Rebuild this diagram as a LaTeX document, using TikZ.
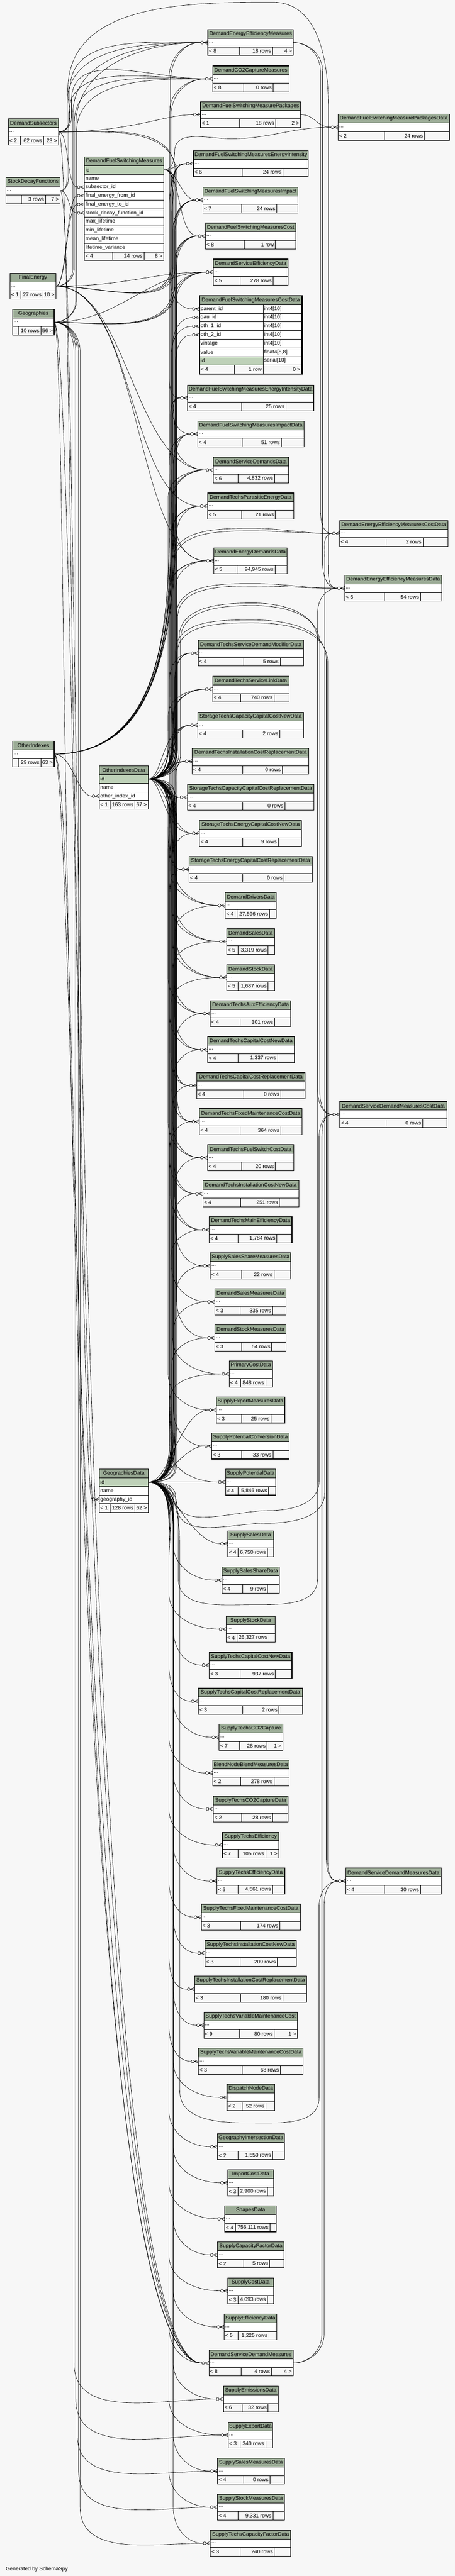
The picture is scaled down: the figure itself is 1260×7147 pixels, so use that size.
\documentclass[tikz,border=0pt]{standalone}
\usepackage{fontspec}
\setmainfont{Liberation Sans}
\usetikzlibrary{calc}
\definecolor{bgc}{RGB}{247,247,247}
\definecolor{hdr}{RGB}{155,171,150}
\definecolor{pkc}{RGB}{190,209,184}
\pgfdeclarelayer{bgl}
\pgfdeclarelayer{edges}
\pgfsetlayers{bgl,edges,main}
\tikzset{
  rel/.style={line width=0.7pt,draw=black},
  cell/.style={line width=0.8pt,draw=black},
  frame/.style={line width=1.2pt,draw=black},
  txt/.style={inner sep=0pt,outer sep=0pt,font=\fontsize{11pt}{13pt}\selectfont,text=black},
  tframe/.style={draw=none,inner sep=0pt,outer sep=0pt,rectangle},
}
\newcommand\Tbl[7]{%
  \gdef\tx{#2}\gdef\ty{#3}\gdef\txr{#4}\gdef\tdb{#6}%
  \node[tframe,minimum width={(#4-#2)*0.75pt},minimum height=54pt,anchor=north west] (#1) at (#2,#3) {};
  \fill[hdr] (#2,#3) rectangle (#4,#3+24);
  \fill[white] (#2,#3+24) rectangle (#4,#3+48);
  \draw[cell] (#2,#3+24) -- (#4,#3+24) (#2,#3+48) -- (#4,#3+48) (#5,#3+48) -- (#5,#3+72) (#6,#3+48) -- (#6,#3+72);
  \draw[frame] (#2,#3) rectangle (#4,#3+72);
  \node[txt] at ({(#2+#4)/2},#3+12) {#7};
  \node[txt,anchor=west] at (#2+3,#3+36) {...};
  \coordinate (#1-in) at (#2-20,#3+36);
  \coordinate (#1-out) at (#4,#3+36);
}
\newcommand\Ft[3]{%
  \node[txt,anchor=west] at (\tx+3,\ty+60) {#1};
  \node[txt,anchor=east] at (\tdb-4,\ty+60) {#2};
  \node[txt,anchor=east] at (\txr-4,\ty+60) {#3};
}
\newcommand\Ec[4]{\draw[rel] (#1) .. controls ($(#1)+(#3,0)$) and ($(#2)+(-#4,0)$) .. (#2);}
\newcommand\Ed[5]{\draw[rel] let \p1=(#1),\p2=(#2),\n1={max(10pt,min((#4)*0.75pt,(\y1)-(\y2)-(#5)*0.75pt-6pt))},\n2={(#3)*0.75pt},\n3={\y1-\n1},\n4={\y2+(#5)*0.75pt} in (\p1) to[out=0,in=90] (\n2,\n3) -- (\n2,\n4) to[out=-90,in=180] (\p2);}
\newcommand\Eu[5]{\draw[rel] let \p1=(#1),\p2=(#2),\n1={max(10pt,min((#4)*0.75pt,(\y2)-(\y1)-(#5)*0.75pt-6pt))},\n2={(#3)*0.75pt},\n3={\y1+\n1},\n4={\y2-(#5)*0.75pt} in (\p1) to[out=0,in=-90] (\n2,\n3) -- (\n2,\n4) to[out=90,in=180] (\p2);}
\newcommand\mk[1]{\draw[rel,fill=white] ($(#1)+(4,0)$) circle[radius=3pt]; \draw[rel] ($(#1)+(8,0)$) -- ($(#1)+(20,-5)$) ($(#1)+(8,0)$) -- ($(#1)+(20,0)$) ($(#1)+(8,0)$) -- ($(#1)+(20,5)$);}

\begin{document}
\begin{tikzpicture}[x=0.75pt,y=-0.75pt]
\begin{pgfonlayer}{bgl}
\fill[bgc] (0,0) rectangle (1260,7147);
\end{pgfonlayer}
\useasboundingbox (0,0) rectangle (1260,7147);

% ---------------- left parent tables
\Tbl{DSUB}{23}{330}{162}{56}{121}{DemandSubsectors}\Ft{< 2}{62 rows}{23 >}
\Tbl{SDF}{16}{493}{167}{59}{126}{StockDecayFunctions}\Ft{}{3 rows}{7 >}
\Tbl{FE}{28}{758}{155}{57}{119}{FinalEnergy}\Ft{< 1}{27 rows}{10 >}
\Tbl{GEO}{35}{858}{150}{51}{113}{Geographies}\Ft{}{10 rows}{56 >}
\Tbl{OI}{35}{2056}{150}{51}{113}{OtherIndexes}\Ft{}{29 rows}{63 >}

% ---------------- DemandFuelSwitchingMeasures
\node[tframe,minimum width=165pt,minimum height=216pt,anchor=north west] (DFSM) at (234,435) {};
\fill[hdr] (234,435) rectangle (454,459);
\fill[pkc] (234,459) rectangle (454,483);
\fill[white] (234,483) rectangle (454,699);
\foreach \yy in {459,483,...,699} {\draw[cell] (234,\yy) -- (454,\yy);}
\draw[cell] (312,699) -- (312,723) (399,699) -- (399,723);
\draw[frame] (234,435) rectangle (454,723);
\node[txt] at (344,447) {DemandFuelSwitchingMeasures};
\foreach \rowtxt [count=\ix] in {id,name,subsector\_id,final\_energy\_from\_id,final\_energy\_to\_id,stock\_decay\_function\_id,max\_lifetime,min\_lifetime,mean\_lifetime,lifetime\_variance} {\node[txt,anchor=west] at (237,447+24*\ix) {\rowtxt};}
\node[txt,anchor=west] at (237,711) {< 4};
\node[txt,anchor=east] at (395,711) {24 rows};
\node[txt,anchor=east] at (450,711) {8 >};
\coordinate (DFSM-out) at (454,471);
\coordinate (DFSM-p1) at (214,519);
\coordinate (DFSM-p2) at (214,543);
\coordinate (DFSM-p3) at (214,567);
\coordinate (DFSM-p4) at (214,591);

% ---------------- OtherIndexesData
\node[tframe,minimum width=102pt,minimum height=90pt,anchor=north west] (OID) at (275,2125) {};
\fill[hdr] (275,2125) rectangle (411,2149);
\fill[pkc] (275,2149) rectangle (411,2173);
\fill[white] (275,2173) rectangle (411,2221);
\draw[cell] (275,2149) -- (411,2149) (275,2173) -- (411,2173) (275,2197) -- (411,2197) (275,2221) -- (411,2221) (305,2221) -- (305,2245) (374,2221) -- (374,2245);
\draw[frame] (275,2125) rectangle (411,2245);
\node[txt] at (343,2137) {OtherIndexesData};
\node[txt,anchor=west] at (278,2161) {id};
\node[txt,anchor=west] at (278,2185) {name};
\node[txt,anchor=west] at (278,2209) {other\_index\_id};
\node[txt,anchor=west] at (278,2233) {< 1};
\node[txt,anchor=east] at (370,2233) {163 rows};
\node[txt,anchor=east] at (407,2233) {67 >};
\coordinate (OID-out) at (411,2161);
\coordinate (OID-p) at (255,2209);

% ---------------- GeographiesData
\node[tframe,minimum width=102pt,minimum height=90pt,anchor=north west] (GD) at (275,4076) {};
\fill[hdr] (275,4076) rectangle (411,4100);
\fill[pkc] (275,4100) rectangle (411,4124);
\fill[white] (275,4124) rectangle (411,4172);
\draw[cell] (275,4100) -- (411,4100) (275,4124) -- (411,4124) (275,4148) -- (411,4148) (275,4172) -- (411,4172) (305,4172) -- (305,4196) (374,4172) -- (374,4196);
\draw[frame] (275,4076) rectangle (411,4196);
\node[txt] at (343,4088) {GeographiesData};
\node[txt,anchor=west] at (278,4112) {id};
\node[txt,anchor=west] at (278,4136) {name};
\node[txt,anchor=west] at (278,4160) {geography\_id};
\node[txt,anchor=west] at (278,4184) {< 1};
\node[txt,anchor=east] at (370,4184) {128 rows};
\node[txt,anchor=east] at (407,4184) {62 >};
\coordinate (GD-out) at (411,4112);
\coordinate (GD-p) at (255,4160);

% ---------------- DemandFuelSwitchingMeasuresCostData (focus)
\node[tframe,minimum width=213pt,minimum height=162pt,anchor=north west] (DFSMCD) at (553,821) {};
\fill[hdr] (553,821) rectangle (837,845);
\fill[white] (553,845) rectangle (837,1013);
\fill[pkc] (553,989) rectangle (729,1013);
\draw[cell] (553,845) -- (837,845) (553,869) -- (837,869) (553,893) -- (837,893) (553,917) -- (837,917) (553,941) -- (837,941) (553,965) -- (837,965) (553,989) -- (837,989) (553,1013) -- (837,1013) (729,845) -- (729,1013) (650,1013) -- (650,1037) (729,1013) -- (729,1037);
\draw[line width=2.3pt] (553,820) rectangle (837,1038);
\node[txt] at (695,833) {DemandFuelSwitchingMeasuresCostData};
\node[txt,anchor=west] at (556,857) {parent\_id};
\node[txt,anchor=west] at (556,881) {gau\_id};
\node[txt,anchor=west] at (556,905) {oth\_1\_id};
\node[txt,anchor=west] at (556,929) {oth\_2\_id};
\node[txt,anchor=west] at (556,953) {vintage};
\node[txt,anchor=west] at (556,977) {value};
\node[txt,anchor=west] at (556,1001) {id};
\node[txt,anchor=west] at (732,857) {int4[10]};
\node[txt,anchor=west] at (732,881) {int4[10]};
\node[txt,anchor=west] at (732,905) {int4[10]};
\node[txt,anchor=west] at (732,929) {int4[10]};
\node[txt,anchor=west] at (732,953) {int4[10]};
\node[txt,anchor=west] at (732,977) {float4[8,8]};
\node[txt,anchor=west] at (732,1001) {serial[10]};
\node[txt,anchor=west] at (556,1025) {< 4};
\node[txt,anchor=east] at (725,1025) {1 row};
\node[txt,anchor=east] at (832,1025) {0 >};
\coordinate (DFSMCD-p1) at (533,857);
\coordinate (DFSMCD-p2) at (533,881);
\coordinate (DFSMCD-p3) at (533,905);
\coordinate (DFSMCD-p4) at (533,929);

% ---------------- middle and right tables
\Tbl{DEEM}{576}{82}{813}{664}{755}{DemandEnergyEfficiencyMeasures}\Ft{< 8}{18 rows}{4 >}
\Tbl{DCO2}{589}{183}{801}{675}{757}{DemandCO2CaptureMeasures}\Ft{< 8}{0 rows}{}
\Tbl{DFSMP}{556}{282}{833}{664}{764}{DemandFuelSwitchingMeasurePackages}\Ft{< 1}{18 rows}{2 >}
\Tbl{DFSMPD}{937}{317}{1245}{1066}{1176}{DemandFuelSwitchingMeasurePackagesData}\Ft{< 2}{24 rows}{}
\Tbl{DFSMEI}{536}{418}{854}{671}{784}{DemandFuelSwitchingMeasuresEnergyIntensity}\Ft{< 6}{24 rows}{}
\Tbl{DFSMImp}{562}{519}{826}{669}{767}{DemandFuelSwitchingMeasuresImpact}\Ft{< 7}{24 rows}{}
\Tbl{DFSMCost}{569}{619}{820}{677}{763}{DemandFuelSwitchingMeasuresCost}\Ft{< 8}{1 row}{}
\Tbl{DSED}{591}{719}{798}{665}{757}{DemandServiceEfficiencyData}\Ft{< 5}{278 rows}{}
\Tbl{DFSMEID}{520}{1068}{869}{669}{792}{DemandFuelSwitchingMeasuresEnergyIntensityData}\Ft{< 4}{25 rows}{}
\Tbl{DFSMImpD}{548}{1168}{842}{671}{779}{DemandFuelSwitchingMeasuresImpactData}\Ft{< 4}{51 rows}{}
\Tbl{DSDD}{591}{1268}{800}{660}{761}{DemandServiceDemandsData}\Ft{< 6}{4,832 rows}{}
\Tbl{DTPED}{575}{1368}{814}{669}{763}{DemandTechsParasiticEnergyData}\Ft{< 5}{21 rows}{}
\Tbl{DEEMCD}{941}{1444}{1241}{1070}{1172}{DemandEnergyEfficiencyMeasuresCostData}\Ft{< 4}{2 rows}{}
\Tbl{DEDD}{592}{1520}{796}{656}{762}{DemandEnergyDemandsData}\Ft{< 5}{94,945 rows}{}
\Tbl{DEEMD}{955}{1596}{1224}{1065}{1165}{DemandEnergyEfficiencyMeasuresData}\Ft{< 5}{54 rows}{}
\Tbl{DTSDMD}{549}{1776}{841}{675}{776}{DemandTechsServiceDemandModifierData}\Ft{< 4}{5 rows}{}
\Tbl{DTSLD}{589}{1876}{801}{667}{759}{DemandTechsServiceLinkData}\Ft{< 4}{740 rows}{}
\Tbl{STCCCND}{548}{1976}{841}{673}{775}{StorageTechsCapacityCapitalCostNewData}\Ft{< 4}{2 rows}{}
\Tbl{DTICRD}{533}{2076}{856}{673}{782}{DemandTechsInstallationCostReplacementData}\Ft{< 4}{0 rows}{}
\Tbl{STCCCRD}{519}{2176}{870}{673}{789}{StorageTechsCapacityCapitalCostReplacementData}\Ft{< 4}{0 rows}{}
\Tbl{STECCND}{553}{2276}{836}{673}{771}{StorageTechsEnergyCapitalCostNewData}\Ft{< 4}{9 rows}{}
\Tbl{STECCRD}{524}{2376}{865}{673}{787}{StorageTechsEnergyCapitalCostReplacementData}\Ft{< 4}{0 rows}{}
\Tbl{DDD}{624}{2476}{766}{656}{747}{DemandDriversData}\Ft{< 4}{27,596 rows}{}
\Tbl{DSaD}{628}{2576}{761}{660}{743}{DemandSalesData}\Ft{< 5}{3,319 rows}{}
\Tbl{DStD}{628}{2676}{761}{660}{743}{DemandStockData}\Ft{< 5}{1,687 rows}{}
\Tbl{DTAED}{583}{2776}{806}{665}{761}{DemandTechsAuxEfficiencyData}\Ft{< 4}{101 rows}{}
\Tbl{DTCCND}{575}{2876}{816}{660}{769}{DemandTechsCapitalCostNewData}\Ft{< 4}{1,337 rows}{}
\Tbl{DTCCRD}{545}{2976}{845}{675}{778}{DemandTechsCapitalCostReplacementData}\Ft{< 4}{0 rows}{}
\Tbl{DSDMCD}{942}{3056}{1238}{1069}{1171}{DemandServiceDemandMeasuresCostData}\Ft{< 4}{0 rows}{}
\Tbl{DTFMCD}{552}{3076}{837}{665}{778}{DemandTechsFixedMaintenanceCostData}\Ft{< 4}{364 rows}{}
\Tbl{DTFSCD}{575}{3176}{814}{669}{763}{DemandTechsFuelSwitchCostData}\Ft{< 4}{20 rows}{}
\Tbl{DTICND}{562}{3276}{828}{667}{774}{DemandTechsInstallationCostNewData}\Ft{< 4}{251 rows}{}
\Tbl{DTMED}{580}{3376}{809}{660}{767}{DemandTechsMainEfficiencyData}\Ft{< 4}{1,784 rows}{}
\Tbl{SSSMD}{583}{3476}{806}{669}{759}{SupplySalesShareMeasuresData}\Ft{< 4}{22 rows}{}
\Tbl{DSMD}{595}{3576}{793}{665}{755}{DemandSalesMeasuresData}\Ft{< 3}{335 rows}{}
\Tbl{DStMD}{595}{3676}{793}{669}{753}{DemandStockMeasuresData}\Ft{< 3}{54 rows}{}
\Tbl{PCD}{635}{3776}{755}{666}{736}{PrimaryCostData}\Ft{< 4}{848 rows}{}
\Tbl{SEMD}{599}{3876}{789}{669}{751}{SupplyExportMeasuresData}\Ft{< 3}{25 rows}{}
\Tbl{SPCD}{587}{3976}{801}{669}{756}{SupplyPotentialConversionData}\Ft{< 3}{33 rows}{}
\Tbl{SPD}{625}{4076}{764}{660}{744}{SupplyPotentialData}\Ft{< 4}{5,846 rows}{}
\Tbl{SSD}{631}{4247}{758}{660}{741}{SupplySalesData}\Ft{< 4}{6,750 rows}{}
\Tbl{SSShD}{615}{4348}{774}{673}{741}{SupplySalesShareData}\Ft{< 4}{9 rows}{}
\Tbl{SStD}{627}{4484}{762}{656}{745}{SupplyStockData}\Ft{< 4}{26,327 rows}{}
\Tbl{STCCND}{580}{4584}{809}{665}{763}{SupplyTechsCapitalCostNewData}\Ft{< 3}{937 rows}{}
\Tbl{STCCRD}{550}{4684}{838}{673}{773}{SupplyTechsCapitalCostReplacementData}\Ft{< 3}{2 rows}{}
\Tbl{STCO2C}{607}{4784}{784}{664}{740}{SupplyTechsCO2Capture}\Ft{< 7}{28 rows}{1 >}
\Tbl{BNBMD}{589}{4883}{801}{667}{759}{BlendNodeBlendMeasuresData}\Ft{< 2}{278 rows}{}
\Tbl{STCO2CD}{591}{4983}{798}{669}{755}{SupplyTechsCO2CaptureData}\Ft{< 2}{28 rows}{}
\Tbl{STE}{616}{5083}{773}{660}{736}{SupplyTechsEfficiency}\Ft{< 7}{105 rows}{1 >}
\Tbl{DSDMD}{958}{5183}{1223}{1066}{1165}{DemandServiceDemandMeasuresData}\Ft{< 4}{30 rows}{}
\Tbl{STED}{601}{5183}{789}{660}{755}{SupplyTechsEfficiencyData}\Ft{< 5}{4,561 rows}{}
\Tbl{STFMCD}{558}{5283}{832}{667}{775}{SupplyTechsFixedMaintenanceCostData}\Ft{< 3}{174 rows}{}
\Tbl{STICND}{568}{5383}{821}{665}{768}{SupplyTechsInstallationCostNewData}\Ft{< 3}{209 rows}{}
\Tbl{STICRD}{539}{5483}{850}{667}{784}{SupplyTechsInstallationCostReplacementData}\Ft{< 3}{180 rows}{}
\Tbl{STVMC}{565}{5583}{824}{664}{760}{SupplyTechsVariableMaintenanceCost}\Ft{< 9}{80 rows}{1 >}
\Tbl{STVMCD}{550}{5683}{840}{671}{777}{SupplyTechsVariableMaintenanceCostData}\Ft{< 3}{68 rows}{}
\Tbl{DND}{629}{5783}{761}{671}{737}{DispatchNodeData}\Ft{< 2}{52 rows}{}
\Tbl{GID}{603}{5920}{788}{660}{755}{GeographyIntersectionData}\Ft{< 2}{1,550 rows}{}
\Tbl{ICD}{631}{6020}{758}{660}{741}{ImportCostData}\Ft{< 3}{2,900 rows}{}
\Tbl{ShD}{623}{6120}{766}{652}{748}{ShapesData}\Ft{< 4}{756,111 rows}{}
\Tbl{SCFD}{603}{6220}{787}{675}{747}{SupplyCapacityFactorData}\Ft{< 2}{5 rows}{}
\Tbl{SCD}{631}{6320}{758}{660}{741}{SupplyCostData}\Ft{< 3}{4,093 rows}{}
\Tbl{SEfD}{621}{6420}{767}{660}{745}{SupplyEfficiencyData}\Ft{< 5}{1,225 rows}{}
\Tbl{DSDM}{579}{6520}{812}{668}{752}{DemandServiceDemandMeasures}\Ft{< 8}{4 rows}{4 >}
\Tbl{SEmD}{619}{6620}{771}{671}{743}{SupplyEmissionsData}\Ft{< 6}{32 rows}{}
\Tbl{SExD}{632}{6720}{756}{665}{736}{SupplyExportData}\Ft{< 3}{340 rows}{}
\Tbl{SSMD}{603}{6820}{788}{675}{748}{SupplySalesMeasuresData}\Ft{< 4}{0 rows}{}
\Tbl{SStMD}{603}{6920}{788}{660}{756}{SupplyStockMeasuresData}\Ft{< 4}{9,331 rows}{}
\Tbl{STCFD}{583}{7020}{806}{665}{760}{SupplyTechsCapacityFactorData}\Ft{< 3}{240 rows}{}

\node[txt,anchor=west] (gen) at (16,7128) {Generated by SchemaSpy};

% ---------------- connectors
\begin{pgfonlayer}{edges}
% DemandSubsectors
\Eu{DSUB-out}{DEEM-in}{194}{40}{130}
\Eu{DSUB-out}{DCO2-in}{198}{40}{60}
\Ec{DSUB-out}{DFSMP-in}{200}{80}
\Ec{DSUB-out}{DFSM-p1}{30}{30}
\Ed{DSUB-out}{DSDD-in}{485}{110}{80}
\Ed{DSUB-out}{DEDD-in}{489}{120}{90}
\Ec{DSUB-out}{DSDM-in}{60}{400}
\draw[rel] (DSUB-out) to[out=0,in=-90] (188,250) to[out=90,in=180] (755,6) to[out=0,in=90] (910,300) -- (910,1560) to[out=-90,in=180] (DEEMD-in);
% StockDecayFunctions
\Eu{SDF-out}{DEEM-in}{186}{40}{170}
\Eu{SDF-out}{DCO2-in}{190}{40}{100}
\Ec{SDF-out}{DFSM-p4}{25}{25}
\Ec{SDF-out}{DSDM-in}{60}{380}
% FinalEnergy
\Eu{FE-out}{DEEM-in}{202}{50}{200}
\Eu{FE-out}{DCO2-in}{206}{50}{120}
\Ec{FE-out}{DFSM-p2}{30}{30}
\Ec{FE-out}{DFSM-p3}{30}{30}
\Eu{FE-out}{DFSMEI-in}{474}{60}{80}
\Eu{FE-out}{DFSMImp-in}{480}{60}{80}
\Eu{FE-out}{DFSMCost-in}{486}{60}{60}
\Ec{FE-out}{DSED-in}{200}{150}
\Ec{FE-out}{DSDD-in}{200}{200}
\Ec{FE-out}{DTPED-in}{220}{200}
\Ec{FE-out}{DEDD-in}{240}{200}
% Geographies
\Eu{GEO-out}{DEEM-in}{210}{60}{230}
\Eu{GEO-out}{DCO2-in}{212}{60}{150}
\Eu{GEO-out}{DFSMEI-in}{478}{100}{80}
\Eu{GEO-out}{DFSMImp-in}{484}{100}{80}
\Eu{GEO-out}{DFSMCost-in}{488}{100}{60}
\Ec{GEO-out}{DSED-in}{180}{160}
\Ec{GEO-out}{GD-p}{50}{30}
\Ec{GEO-out}{DSDM-in}{50}{420}
\Ed{GEO-out}{SEmD-in}{205}{80}{100}
\Ed{GEO-out}{SExD-in}{210}{80}{100}
\Ed{GEO-out}{SSMD-in}{214}{80}{100}
\Ed{GEO-out}{SStMD-in}{218}{80}{100}
\Ed{GEO-out}{STCFD-in}{222}{80}{100}
% OtherIndexes
\Eu{OI-out}{DEEM-in}{468}{850}{100}
\Eu{OI-out}{DEEM-in}{472}{900}{110}
\Eu{OI-out}{DCO2-in}{470}{820}{90}
\Eu{OI-out}{DCO2-in}{474}{870}{100}
\Eu{OI-out}{DFSMEI-in}{476}{780}{80}
\Eu{OI-out}{DFSMEI-in}{480}{830}{90}
\Eu{OI-out}{DFSMImp-in}{482}{760}{80}
\Eu{OI-out}{DFSMImp-in}{486}{800}{90}
\Eu{OI-out}{DFSMCost-in}{488}{740}{70}
\Eu{OI-out}{DFSMCost-in}{490}{780}{80}
\Ec{OI-out}{OID-p}{50}{40}
\Ec{OI-out}{DSDM-in}{60}{350}
\Ec{OI-out}{DSDM-in}{80}{380}
% DemandFuelSwitchingMeasures
\Ec{DFSM-out}{DFSMEI-in}{30}{30}
\Ec{DFSM-out}{DFSMImp-in}{40}{40}
\Ec{DFSM-out}{DFSMCost-in}{50}{60}
\draw[rel] (DFSM-out) to[out=0,in=-90] (484,420) to[out=90,in=180] (640,385) to[out=0,in=180] (DFSMPD-in);
\Ed{DFSM-out}{DFSMCD-p1}{472}{80}{80}
\Ed{DFSM-out}{DFSMEID-in}{468}{100}{80}
\Ed{DFSM-out}{DFSMImpD-in}{476}{120}{80}
% packages, measures (right column)
\Ec{DFSMP-out}{DFSMPD-in}{40}{40}
\Ed{DEEM-out}{DEEMCD-in}{888}{80}{70}
\Ed{DEEM-out}{DEEMD-in}{894}{80}{70}
\Eu{DSDM-out}{DSDMCD-in}{892}{80}{70}
\Eu{DSDM-out}{DSDMD-in}{898}{80}{70}
% OtherIndexesData arcs to the right column
\draw[rel] (OID-out) to[out=0,in=-90] (478,2060) -- (478,1560) to[out=90,in=180] (700,1466) to[out=0,in=180] (DEEMCD-in);
\draw[rel] (OID-out) to[out=0,in=-90] (482,2066) -- (482,1566) to[out=90,in=180] (700,1473) to[out=0,in=180] (DEEMCD-in);
\draw[rel] (OID-out) to[out=0,in=-90] (488,2076) -- (488,1710) to[out=90,in=180] (700,1619) to[out=0,in=180] (DEEMD-in);
\draw[rel] (OID-out) to[out=0,in=-90] (492,2082) -- (492,1716) to[out=90,in=180] (700,1626) to[out=0,in=180] (DEEMD-in);
\draw[rel] (OID-out) to[out=0,in=-90] (496,2090) -- (496,1770) to[out=90,in=180] (700,1673) to[out=0,in=90] (880,1780) -- (880,3020) to[out=-90,in=180] (DSDMCD-in);
\draw[rel] (OID-out) to[out=0,in=-90] (500,2096) -- (500,1776) to[out=90,in=180] (700,1680) to[out=0,in=90] (886,1786) -- (886,3026) to[out=-90,in=180] (DSDMCD-in);
\draw[rel] (OID-out) to[out=0,in=-90] (486,2086) -- (486,1810) to[out=90,in=180] (700,1720) to[out=0,in=90] (904,1830) -- (904,5150) to[out=-90,in=180] (DSDMD-in);
\draw[rel] (OID-out) to[out=0,in=-90] (490,2092) -- (490,1818) to[out=90,in=180] (700,1728) to[out=0,in=90] (908,1838) -- (908,5156) to[out=-90,in=180] (DSDMD-in);
% GeographiesData loops to the right column
\draw[rel] (GD-out) to[out=0,in=90] (486,4150) to[out=-90,in=180] (745,4191) to[out=0,in=-90] (884,4110) -- (884,3160) to[out=90,in=180] (DSDMCD-in);
\draw[rel] (GD-out) to[out=0,in=90] (490,4175) to[out=-90,in=180] (740,4226) to[out=0,in=-90] (900,4140) -- (900,1550) to[out=90,in=180] (DEEMCD-in);
\draw[rel] (GD-out) to[out=0,in=90] (494,4220) -- (494,4380) to[out=-90,in=180] (700,4452) to[out=0,in=-90] (880,4380) -- (880,1700) to[out=90,in=180] (DEEMD-in);
\draw[rel] (GD-out) to[out=0,in=90] (498,4300) -- (498,5800) to[out=-90,in=180] (700,5890) to[out=0,in=-90] (884,5820) -- (884,5290) to[out=90,in=180] (DSDMD-in);
% OtherIndexesData to the middle column
\foreach \tgt [count=\ix] in {DSED-in,DSED-in,DFSMCD-p3,DFSMCD-p4,DFSMEID-in,DFSMEID-in,DFSMImpD-in,DFSMImpD-in,DSDD-in,DSDD-in,DTPED-in,DTPED-in,DEDD-in,DEDD-in,DTSDMD-in,DTSDMD-in,DTSLD-in,DTSLD-in}
  {\Eu{OID-out}{\tgt}{466+mod(\ix*4,9)*3}{40+mod(\ix*7,12)*18}{75}}
\Ec{OID-out}{STCCCND-in}{50}{60}
\Ec{OID-out}{STCCCND-in}{40}{80}
\Ec{OID-out}{DTICRD-in}{40}{50}
\Ec{OID-out}{DTICRD-in}{50}{40}
\Ec{OID-out}{STCCCRD-in}{40}{50}
\Ec{OID-out}{STCCCRD-in}{50}{40}
\Ec{OID-out}{STECCND-in}{50}{60}
\Ec{OID-out}{STECCND-in}{40}{80}
\foreach \tgt [count=\ix] in {STECCRD-in,STECCRD-in,DDD-in,DDD-in,DSaD-in,DSaD-in,DStD-in,DStD-in,DTAED-in,DTAED-in,DTCCND-in,DTCCND-in,DTCCRD-in,DTCCRD-in,DTFMCD-in,DTFMCD-in,DTFSCD-in,DTFSCD-in,DTICND-in,DTICND-in,DTMED-in,DTMED-in,SSSMD-in,DSMD-in,DStMD-in,PCD-in,SEMD-in,SPCD-in,SPD-in}
  {\Ed{OID-out}{\tgt}{466+mod(\ix*5,9)*3}{40+mod(\ix*7,12)*18}{100}}
% GeographiesData to the middle column
\foreach \tgt [count=\ix] in {DSED-in,DFSMCD-p2,DFSMEID-in,DFSMImpD-in,DSDD-in,DTPED-in,DEDD-in,DTSDMD-in,DTSLD-in,STCCCND-in,DTICRD-in,STCCCRD-in,STECCND-in,STECCRD-in,DDD-in,DSaD-in,DStD-in,DTAED-in,DTCCND-in,DTCCRD-in,DTFMCD-in,DTFSCD-in,DTICND-in,DTMED-in,SSSMD-in,DSMD-in,DStMD-in,PCD-in}
  {\Eu{GD-out}{\tgt}{470+mod(\ix*5,7)*3}{40+mod(\ix*7,11)*18}{75}}
\Ec{GD-out}{SEMD-in}{60}{80}
\Ec{GD-out}{SPCD-in}{50}{60}
\draw[rel] (GD-out) -- (SPD-in);
\Ec{GD-out}{SSD-in}{60}{80}
\foreach \tgt [count=\ix] in {SSShD-in,SStD-in,STCCND-in,STCCRD-in,STCO2C-in,BNBMD-in,STCO2CD-in,STE-in,STED-in,STFMCD-in,STICND-in,STICRD-in,STVMC-in,STVMCD-in,DND-in,GID-in,ICD-in,ShD-in,SCFD-in,SCD-in,SEfD-in,DSDM-in,SEmD-in,SExD-in,SSMD-in,SStMD-in,STCFD-in}
  {\Ed{GD-out}{\tgt}{468+mod(\ix*4,8)*3}{40+mod(\ix*7,11)*18}{100}}
\end{pgfonlayer}

% ---------------- crow's feet with circles
\foreach \tgt in {DEEM,DCO2,DFSMP,DFSMPD,DFSMEI,DFSMImp,DFSMCost,DSED,DFSMEID,DFSMImpD,DSDD,DTPED,DEEMCD,DEDD,DEEMD,DTSDMD,DTSLD,STCCCND,DTICRD,STCCCRD,STECCND,STECCRD,DDD,DSaD,DStD,DTAED,DTCCND,DTCCRD,DSDMCD,DTFMCD,DTFSCD,DTICND,DTMED,SSSMD,DSMD,DStMD,PCD,SEMD,SPCD,SPD,SSD,SSShD,SStD,STCCND,STCCRD,STCO2C,BNBMD,STCO2CD,STE,DSDMD,STED,STFMCD,STICND,STICRD,STVMC,STVMCD,DND,GID,ICD,ShD,SCFD,SCD,SEfD,DSDM,SEmD,SExD,SSMD,SStMD,STCFD} {\mk{\tgt-in}}
\foreach \tgt in {DFSMCD-p1,DFSMCD-p2,DFSMCD-p3,DFSMCD-p4,DFSM-p1,DFSM-p2,DFSM-p3,DFSM-p4,OID-p,GD-p} {\mk{\tgt}}
\end{tikzpicture}
\end{document}
